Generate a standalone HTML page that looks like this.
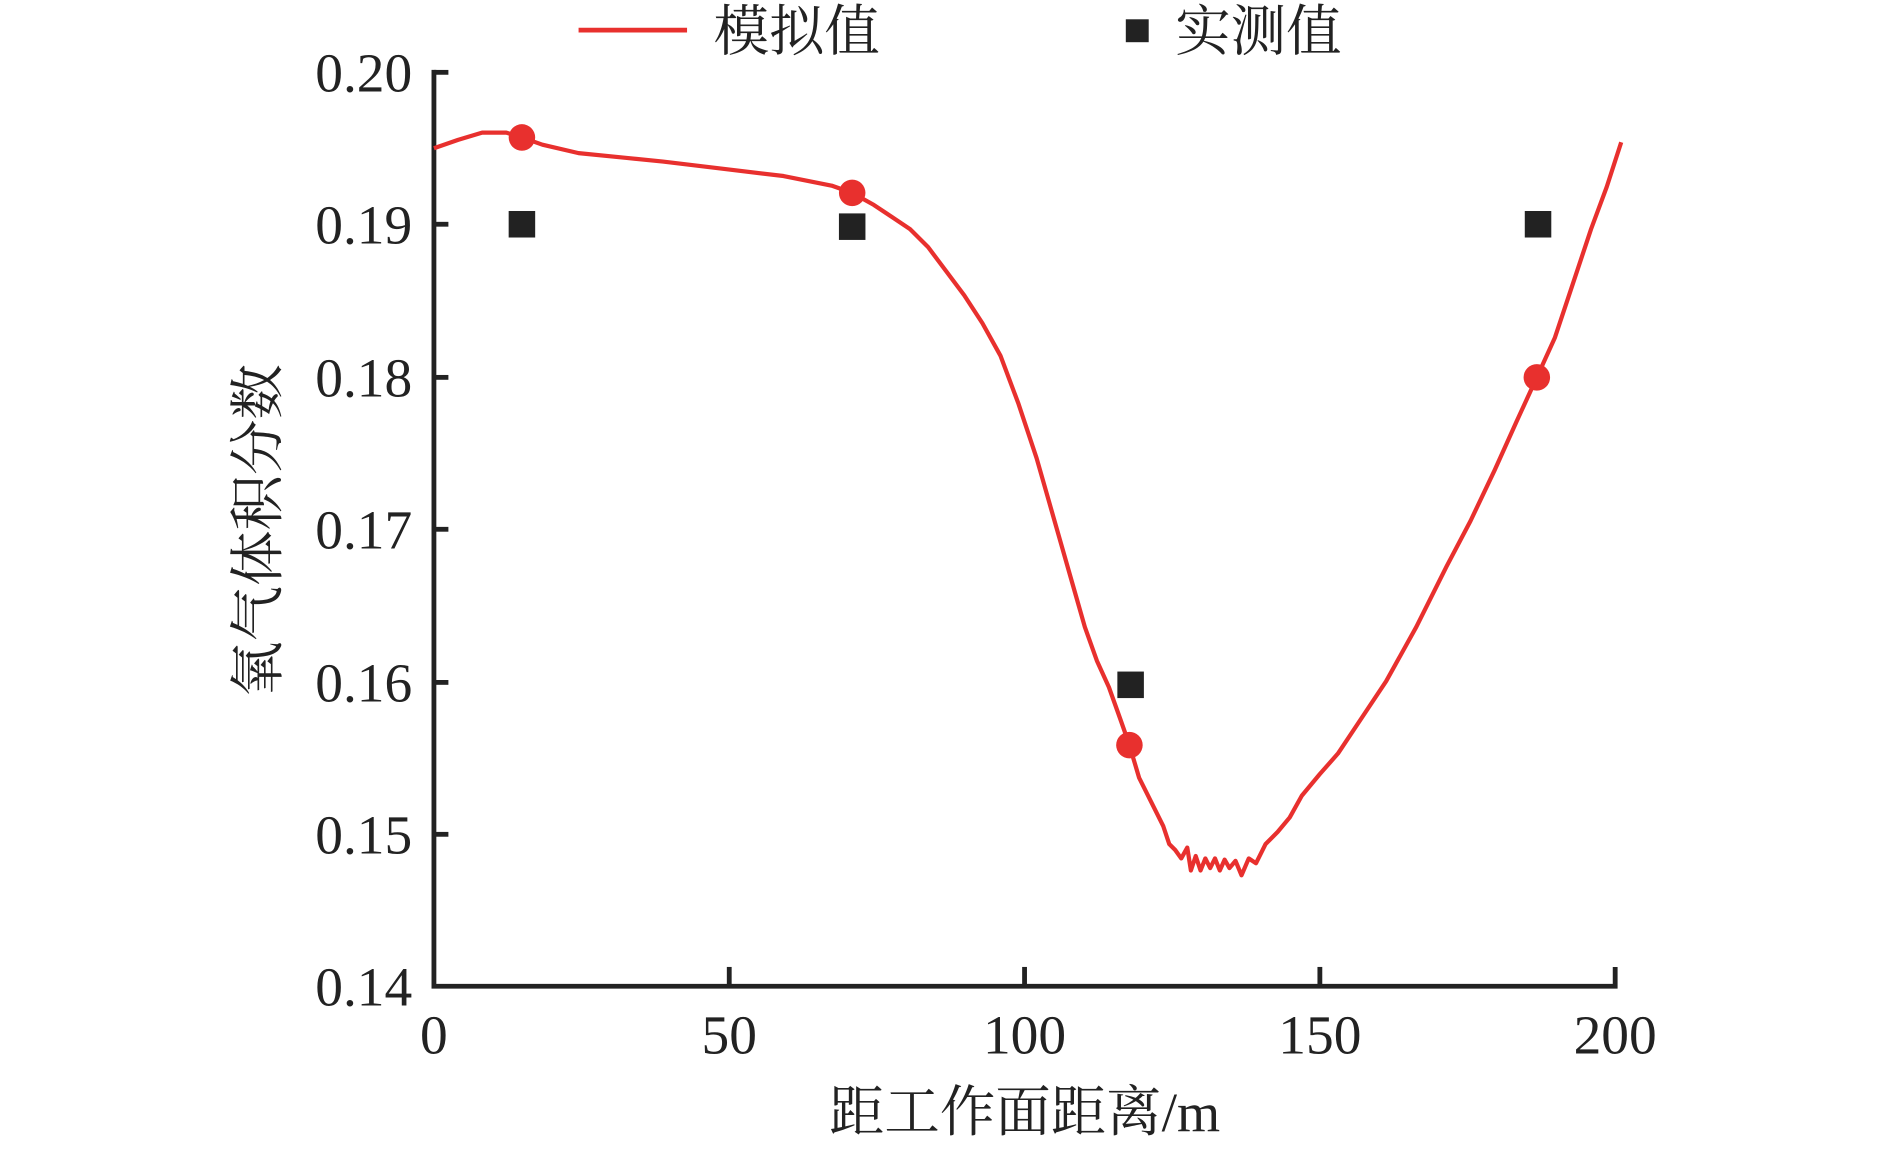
<!DOCTYPE html>
<html><head><meta charset="utf-8"><style>html,body{margin:0;padding:0;background:#fff;}svg{display:block}</style></head>
<body>
<svg width="1890" height="1149" viewBox="0 0 1568 953" preserveAspectRatio="none" xmlns="http://www.w3.org/2000/svg">
<g font-family="Liberation Serif, 'Noto Serif CJK SC', serif" fill="#222">
<line x1="480" y1="25" x2="570" y2="25" stroke="#e8302e" stroke-width="4"/>
<text x="592" y="42" font-size="46">模拟值</text>
<rect x="934" y="16" width="19" height="19" fill="#222"/>
<text x="975" y="42" font-size="46">实测值</text>
<g font-size="46" text-anchor="end">
<text x="342" y="76">0.20</text><text x="342" y="202">0.19</text><text x="342" y="329">0.18</text>
<text x="342" y="455">0.17</text><text x="342" y="582">0.16</text><text x="342" y="708">0.15</text><text x="342" y="834">0.14</text>
</g>
<g font-size="46" text-anchor="middle">
<text x="360" y="874">0</text><text x="605" y="874">50</text><text x="850" y="874">100</text><text x="1095" y="874">150</text><text x="1340" y="874">200</text>
</g>
<text x="850" y="938" font-size="46" text-anchor="middle">距工作面距离/m</text>
<text transform="translate(230,440) rotate(-90)" font-size="46" text-anchor="middle">氧气体积分数</text>
</g>
<g stroke="#222" stroke-width="4" fill="none">
<polyline points="360,58 360,818 1340,818 1340,802"/>
<line x1="360" y1="60" x2="372" y2="60"/><line x1="360" y1="186" x2="372" y2="186"/><line x1="360" y1="313" x2="372" y2="313"/>
<line x1="360" y1="439" x2="372" y2="439"/><line x1="360" y1="566" x2="372" y2="566"/><line x1="360" y1="692" x2="372" y2="692"/>
<line x1="605" y1="818" x2="605" y2="802"/><line x1="850" y1="818" x2="850" y2="802"/><line x1="1095" y1="818" x2="1095" y2="802"/>
</g>
<polyline fill="none" stroke="#e8302e" stroke-width="3.5" stroke-linejoin="round" points="360,123 380,116 400,110 420,110 433,114 450,120 480,127 520,131 550,134 600,140 650,146 690,154 707,160 725,170 740,180 755,190 770,205 785,225 800,245 815,268 830,295 845,335 860,380 870,415 880,450 890,485 900,520 910,548 920,570 930,598 937,618 945,645 955,665 965,685 970,700 975,705 980,712 985,703 988,722 992,710 996,722 1000,712 1004,720 1008,712 1012,722 1016,713 1020,720 1025,714 1030,726 1036,712 1042,716 1050,700 1060,690 1070,678 1080,660 1095,642 1110,625 1130,595 1150,565 1175,520 1200,470 1220,432 1240,390 1258,350 1275,313 1290,280 1300,250 1320,190 1333,155 1345,118"/>
<g fill="#e8302e"><circle cx="433" cy="114" r="11"/><circle cx="707" cy="160" r="11"/><circle cx="937" cy="618" r="11"/><circle cx="1275" cy="313" r="11"/></g>
<g fill="#222"><rect x="422" y="175" width="22" height="22"/><rect x="696" y="177" width="22" height="22"/><rect x="927" y="557" width="22" height="22"/><rect x="1265" y="175" width="22" height="22"/></g>
</svg>
</body></html>
